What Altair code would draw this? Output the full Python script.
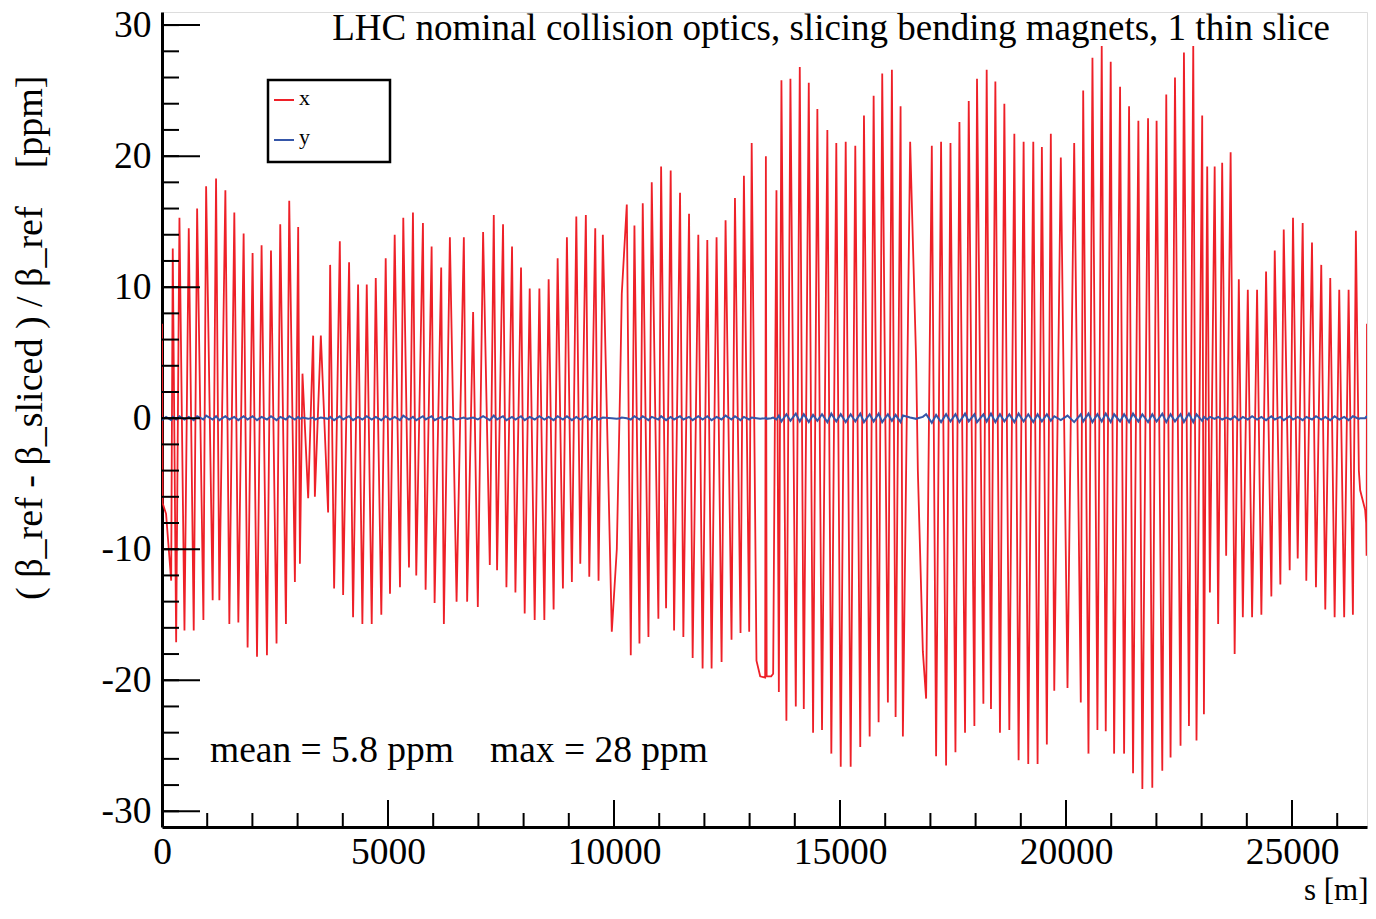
import altair as alt
import pandas as pd

# ---------------- data ----------------
s_m = [
    0, 15, 90, 203, 238, 313, 386, 497, 592, 702,
    777, 916, 976, 1121, 1196, 1269, 1402, 1490, 1600, 1689,
    1806, 1894, 2004, 2102, 2203, 2322, 2411, 2534, 2616, 2742,
    2815, 2940, 3013, 3051, 3108, 3234, 3344, 3382, 3514, 3675,
    3720, 3808, 3934, 4007, 4139, 4227, 4338, 4433, 4530, 4640,
    4729, 4852, 4949, 5044, 5148, 5265, 5338, 5464, 5552, 5625,
    5773, 5832, 5965, 6031, 6177, 6236, 6369, 6517, 6678, 6751,
    6883, 6987, 7104, 7252, 7340, 7413, 7545, 7620, 7744, 7819,
    7943, 8024, 8135, 8245, 8349, 8459, 8554, 8664, 8753, 8870,
    8958, 9068, 9166, 9254, 9377, 9453, 9585, 9658, 9753, 9951,
    10062, 10137, 10172, 10283, 10371, 10452, 10563, 10636, 10762, 10835,
    10982, 11042, 11152, 11254, 11329, 11461, 11534, 11660, 11740, 11865,
    11960, 12064, 12159, 12269, 12380, 12468, 12600, 12676, 12799, 12874,
    12991, 13046, 13152, 13234, 13344, 13360, 13377, 13477, 13521, 13594,
    13647, 13704, 13814, 13903, 14022, 14110, 14199, 14309, 14404, 14499,
    14602, 14720, 14808, 14918, 15016, 15126, 15236, 15338, 15448, 15530,
    15656, 15744, 15854, 15934, 16059, 16148, 16230, 16340, 16391, 16552,
    16684, 16722, 16833, 16905, 17031, 17126, 17236, 17347, 17444, 17554,
    17642, 17766, 17848, 17973, 18031, 18172, 18245, 18340, 18437, 18539,
    18636, 18746, 18857, 18951, 19062, 19165, 19276, 19371, 19466, 19576,
    19664, 19740, 19885, 20033, 20181, 20327, 20380, 20497, 20585, 20695,
    20790, 20879, 20989, 21064, 21196, 21285, 21395, 21483, 21601, 21689,
    21815, 21909, 22004, 22130, 22218, 22313, 22411, 22534, 22609, 22720,
    22815, 22887, 23013, 23051, 23124, 23183, 23289, 23366, 23455, 23543,
    23642, 23731, 23823, 23912, 24022, 24117, 24227, 24322, 24426, 24543,
    24618, 24742, 24817, 24949, 25022, 25126, 25236, 25316, 25442, 25530,
    25647, 25736, 25846, 25943, 26045, 26154, 26252, 26347, 26413, 26479,
    26508, 26618, 26640, 26650, 26659,
]

beta_x = [
    7.2, -6.5, -7.3, -12.4, 12.95, -17.1, 15.3, -16.2, 14.5, -16.2,
    16.0, -15.4, 17.7, -13.9, 18.3, -13.9, 17.4, -15.7, 15.7, -15.6,
    14.1, -17.5, 12.6, -18.2, 13.2, -18.1, 12.8, -17.2, 14.8, -15.7,
    16.6, -12.5, 14.6, -11.1, 3.4, -6.1, 6.3, -6.0, 6.3, -7.2,
    11.7, -13.0, 13.5, -13.5, 11.9, -15.2, 10.2, -15.7, 10.2, -15.7,
    10.7, -15.0, 12.2, -13.4, 14.0, -12.9, 15.3, -11.4, 15.7, -12.0,
    14.9, -13.1, 13.1, -14.1, 11.5, -15.7, 13.8, -14.0, 13.8, -14.0,
    8.1, -14.4, 14.2, -11.2, 15.5, -11.6, 14.8, -12.9, 13.1, -13.3,
    11.5, -14.9, 9.9, -15.4, 9.9, -15.4, 10.6, -14.6, 12.2, -13.0,
    13.8, -12.5, 15.4, -11.1, 15.5, -12.1, 14.5, -12.4, 14.0, -16.3,
    -10.0, 2.7, 9.5, 16.3, -18.1, 14.7, -17.2, 16.4, -16.7, 18.0,
    -15.3, 19.2, -14.5, 18.9, -16.2, 17.2, -16.7, 15.6, -18.3, 14.0,
    -19.1, 13.6, -19.1, 13.8, -18.6, 15.1, -16.9, 16.8, -16.4, 18.5,
    -16.3, 21.0, -18.5, -19.7, -19.8, 20.0, -19.7, -19.7, -19.5, 17.4,
    -20.9, 25.8, -23.1, 25.9, -22.0, 26.8, -22.2, 25.6, -24.0, 23.6,
    -23.8, 22.0, -25.6, 21.0, -26.6, 21.1, -26.6, 20.8, -25.1, 23.1,
    -24.3, 24.6, -23.2, 26.3, -21.7, 26.6, -22.8, 23.8, -24.3, 21.1,
    4.4, -4.0, -17.8, -21.4, 20.8, -25.8, 21.1, -26.5, 21.0, -25.5,
    22.6, -24.0, 24.2, -23.5, 25.9, -21.8, 26.6, -22.2, 25.7, -24.0,
    24.0, -23.8, 21.7, -26.1, 21.1, -26.4, 21.1, -26.4, 20.7, -24.9,
    21.7, -20.8, 19.9, -20.6, 21.0, -21.7, 25.0, -25.6, 27.5, -23.8,
    28.4, -23.9, 27.2, -25.6, 25.3, -25.6, 23.8, -27.1, 22.7, -28.3,
    22.9, -28.2, 22.7, -26.9, 24.7, -25.9, 26.0, -25.0, 27.9, -23.5,
    28.4, -24.6, 23.1, -22.6, 19.2, -13.3, 19.2, -15.7, 19.5, -10.5,
    20.3, -18.0, 10.6, -15.2, 9.8, -15.2, 9.8, -15.0, 11.2, -13.6,
    12.8, -12.7, 14.4, -11.6, 15.3, -10.7, 14.9, -12.4, 13.4, -12.9,
    11.7, -14.6, 10.7, -15.2, 9.8, -15.2, 9.8, -15.0, 14.3, -4.0,
    -5.5, -7.0, -8.0, -10.5, 7.2,
]

beta_y = [
    0.0, -0.1, 0.1, -0.15, 0.1, -0.1, 0.15, -0.1, 0.1, -0.15,
    0.15, -0.1, 0.2, -0.1, 0.15, -0.15, 0.15, -0.1, 0.1, -0.15,
    0.15, -0.1, 0.15, -0.15, 0.1, -0.1, 0.15, -0.15, 0.1, -0.1,
    0.15, -0.1, 0.1, -0.05, 0.05, -0.05, 0.05, -0.1, 0.05, -0.05,
    0.1, -0.15, 0.15, -0.1, 0.15, -0.15, 0.1, -0.1, 0.15, -0.1,
    0.1, -0.15, 0.15, -0.1, 0.1, -0.15, 0.2, -0.1, 0.1, -0.15,
    0.15, -0.1, 0.15, -0.15, 0.1, -0.1, 0.1, -0.1, 0.05, -0.05,
    0.05, -0.1, 0.15, -0.15, 0.2, -0.1, 0.15, -0.15, 0.1, -0.1,
    0.15, -0.15, 0.1, -0.1, 0.15, -0.1, 0.1, -0.15, 0.15, -0.1,
    0.15, -0.15, 0.1, -0.1, 0.15, -0.1, 0.1, -0.1, 0.05, 0.0,
    -0.05, 0.0, 0.05, 0.0, -0.1, 0.15, -0.1, 0.15, -0.15, 0.1,
    -0.1, 0.15, -0.15, 0.1, -0.1, 0.15, -0.1, 0.1, -0.15, 0.15,
    -0.1, 0.15, -0.15, 0.1, -0.1, 0.2, -0.1, 0.15, -0.15, 0.1,
    -0.1, 0.05, 0.0, -0.05, 0.0, 0.05, -0.05, 0.0, 0.05, -0.1,
    0.2, -0.25, 0.3, -0.2, 0.35, -0.25, 0.3, -0.3, 0.25, -0.2,
    0.3, -0.3, 0.35, -0.25, 0.3, -0.3, 0.3, -0.25, 0.35, -0.3,
    0.3, -0.25, 0.35, -0.3, 0.3, -0.2, 0.25, -0.3, 0.2, 0.05,
    -0.05, 0.0, 0.1, 0.3, -0.35, 0.25, -0.3, 0.3, -0.25, 0.3,
    -0.3, 0.35, -0.25, 0.3, -0.3, 0.3, -0.25, 0.35, -0.3, 0.3,
    -0.25, 0.3, -0.3, 0.35, -0.25, 0.3, -0.3, 0.3, -0.25, 0.3,
    -0.2, 0.15, -0.15, 0.2, -0.3, 0.3, -0.25, 0.35, -0.3, 0.3,
    -0.25, 0.35, -0.3, 0.3, -0.25, 0.3, -0.3, 0.35, -0.25, 0.3,
    -0.3, 0.3, -0.25, 0.35, -0.3, 0.3, -0.25, 0.3, -0.3, 0.35,
    -0.3, 0.3, -0.2, 0.1, -0.1, 0.1, -0.05, 0.1, -0.1, 0.05,
    -0.1, 0.15, -0.15, 0.1, -0.1, 0.15, -0.1, 0.1, -0.15, 0.15,
    -0.1, 0.1, -0.15, 0.15, -0.1, 0.1, -0.15, 0.1, -0.1, 0.15,
    -0.1, 0.1, -0.15, 0.15, -0.1, 0.1, -0.15, 0.15, 0.05, -0.05,
    0.0, 0.0, 0.1, 0.05, 0.0,
]

series_names = ["x", "y"]
series_colors = ["#ee2028", "#3556a8"]

y_major = [-30, -20, -10, 0, 10, 20, 30]
y_minor = [-30, -28, -26, -24, -22, -20, -18, -16, -14, -12, -10, -8, -6, -4, -2,
           0, 2, 4, 6, 8, 10, 12, 14, 16, 18, 20, 22, 24, 26, 28, 30]
x_major = [0, 5000, 10000, 15000, 20000, 25000]
x_minor = [0, 1000, 2000, 3000, 4000, 5000, 6000, 7000, 8000, 9000, 10000, 11000,
           12000, 13000, 14000, 15000, 16000, 17000, 18000, 19000, 20000, 21000,
           22000, 23000, 24000, 25000, 26000]

title_text = "LHC nominal collision optics, slicing bending magnets, 1 thin slice"
mean_text = "mean = 5.8 ppm"
max_text = "max = 28 ppm"
y_title = "( \u03b2_ref - \u03b2_sliced ) / \u03b2_ref \u00a0\u00a0\u00a0[ppm]"
x_title = "s [m]"

# ---------------- layout ----------------
W, H = 1205, 815
X_DOM = [0, 26659]
Y_DOM = [-31.2, 31.0]
FONT = "Liberation Serif"

rows = []
for s, vx, vy in zip(s_m, beta_x, beta_y):
    rows.append({"s": s, "val": vx, "series": "x"})
for s, vx, vy in zip(s_m, beta_x, beta_y):
    rows.append({"s": s, "val": vy, "series": "y"})
df = pd.DataFrame(rows)

xs = alt.Scale(domain=X_DOM, nice=False, zero=False)
ys = alt.Scale(domain=Y_DOM, nice=False, zero=False)
cs = alt.Scale(domain=series_names, range=series_colors)

x_axis = alt.Axis(
    values=x_major, labelExpr="'' + datum.value", labelFont=FONT, labelFontSize=37.5,
    labelColor="black", labelPadding=6, labelFlush=False, labelOverlap=False,
    ticks=False, tickSize=0, grid=False, domain=True, domainColor="black", domainWidth=3,
    title=x_title, titleFont=FONT, titleFontSize=31, titleFontWeight="normal",
    titleColor="black", titleAlign="right", titleAnchor="end", titleBaseline="alphabetic",
    titleX=W + 1, titleY=72,
)
y_axis = alt.Axis(
    values=y_major, labelExpr="'' + datum.value", labelFont=FONT, labelFontSize=37.5,
    labelColor="black", labelPadding=11, labelFlush=False, labelOverlap=False,
    ticks=False, tickSize=0, grid=False, domain=True, domainColor="black", domainWidth=3,
    title=y_title, titleFont=FONT, titleFontSize=38, titleFontWeight="normal",
    titleColor="black", titleAngle=270, titleAlign="right", titleBaseline="middle",
    titleX=-132, titleY=63,
)

X_ENC = dict(scale=xs, axis=x_axis)
Y_ENC = dict(scale=ys, axis=y_axis)

red = alt.Chart(df[df.series == "x"]).mark_line(strokeWidth=1.8, clip=True).encode(
    x=alt.X("s:Q", **X_ENC),
    y=alt.Y("val:Q", **Y_ENC),
    color=alt.Color("series:N", scale=cs, legend=None),
    order="s:Q",
)
blue = alt.Chart(df[df.series == "y"]).mark_line(strokeWidth=2, clip=True).encode(
    x=alt.X("s:Q", **X_ENC),
    y=alt.Y("val:Q", **Y_ENC),
    color=alt.Color("series:N", scale=cs, legend=None),
    order="s:Q",
)

def yticks(vals, length):
    return alt.Chart(pd.DataFrame({"val": vals})).mark_rule(color="black", strokeWidth=2).encode(
        y=alt.Y("val:Q", **Y_ENC), x=alt.value(0), x2=alt.value(length))

def xticks(vals, length):
    return alt.Chart(pd.DataFrame({"s": vals})).mark_rule(color="black", strokeWidth=2).encode(
        x=alt.X("s:Q", **X_ENC), y=alt.value(H), y2=alt.value(H - length))

one = pd.DataFrame({"k": [0]})

def label(text, x, y, size, align="left", color="black"):
    return alt.Chart(one).mark_text(text=text, font=FONT, fontSize=size, align=align,
                                    baseline="middle", color=color).encode(
        x=alt.value(x), y=alt.value(y))

title_mark = label(title_text, 1168, 17, 37, align="right")
mean_mark = label(mean_text, 48, 739, 37.5)
max_mark = label(max_text, 328, 739, 37.5)

leg_box = alt.Chart(one).mark_rect(fill="white", stroke="black", strokeWidth=2.5).encode(
    x=alt.value(106), x2=alt.value(228), y=alt.value(68), y2=alt.value(150))
leg_x_line = alt.Chart(one).mark_rule(color=series_colors[0], strokeWidth=2).encode(
    x=alt.value(112), x2=alt.value(132), y=alt.value(88))
leg_y_line = alt.Chart(one).mark_rule(color=series_colors[1], strokeWidth=2).encode(
    x=alt.value(112), x2=alt.value(132), y=alt.value(128))
leg_x_txt = label("x", 137, 86, 22)
leg_y_txt = label("y", 137, 125, 22)

chart = alt.layer(
    red, blue,
    yticks(y_minor, 17), yticks(y_major, 38),
    xticks(x_minor, 14), xticks(x_major, 27),
    title_mark, mean_mark, max_mark,
    leg_box, leg_x_line, leg_y_line, leg_x_txt, leg_y_txt,
).properties(
    width=W, height=H,
    autosize=alt.AutoSizeParams(type="none"),
    padding={"left": 154, "top": 4, "right": 1, "bottom": 78},
).configure_view(stroke="black", strokeWidth=2).configure(background="white")

chart.save("out.html", embed_options={"renderer": "svg", "actions": False})
